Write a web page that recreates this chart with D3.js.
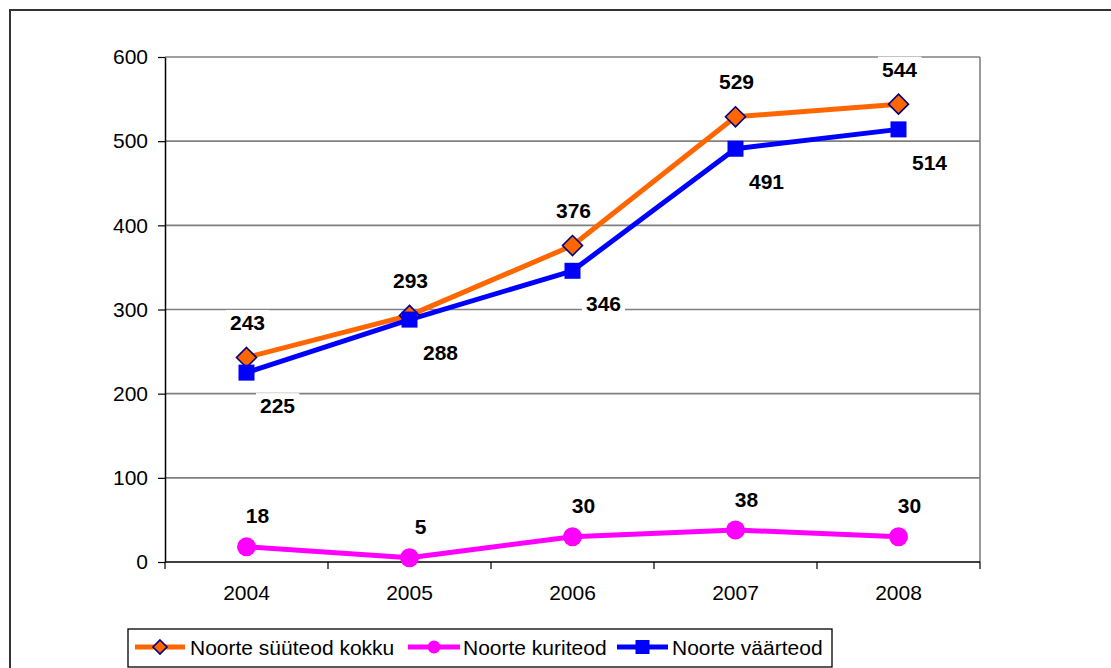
<!DOCTYPE html>
<html><head><meta charset="utf-8">
<script src="https://cdn.jsdelivr.net/npm/d3@7"></script>
<style>body{margin:0;background:#fff}svg{display:block}text{font-family:"Liberation Sans",Arial,sans-serif}</style>
</head><body>
<svg id="c" width="1111" height="668"></svg>
<script>
const years = ["2004","2005","2006","2007","2008"];
const totalArson = [243,293,376,529,544];      // Noorte süüteod kokku
const crimes = [18,5,30,38,30];                 // Noorte kuriteod
const misdemeanors = [225,288,346,491,514];     // Noorte väärteod
const yTicks = [0,100,200,300,400,500,600];
const seriesNames = ["Noorte süüteod kokku","Noorte kuriteod","Noorte väärteod"];

const svg = d3.select("#c");
const L = 165, R = 980, T = 57, B = 562;
const FS = 21;

// outer frame
svg.append("rect").attr("x",10).attr("y",10).attr("width",1120).attr("height",680)
  .attr("fill","none").attr("stroke","#333").attr("stroke-width",2);

const x = d3.scaleBand().domain(years).range([L,R]);
const y = d3.scaleLinear().domain([0,600]).range([B,T]);
const cx = d => x(d) + x.bandwidth()/2;

// gridlines
svg.append("g").selectAll("line").data(yTicks.filter(v=>v>0)).join("line")
  .attr("x1",L).attr("x2",R).attr("y1",d=>y(d)).attr("y2",d=>y(d))
  .attr("stroke","#808080").attr("stroke-width",1.6);
// right border of plot
svg.append("line").attr("x1",R).attr("x2",R).attr("y1",T).attr("y2",B)
  .attr("stroke","#808080").attr("stroke-width",1.6);

// y axis
const yAxis = svg.append("g").attr("transform",`translate(${L},0)`)
  .call(d3.axisLeft(y).tickValues(yTicks).tickSize(7).tickPadding(10).tickSizeOuter(0));
yAxis.select(".domain").attr("stroke","#000").attr("stroke-width",1.5);
yAxis.selectAll(".tick line").attr("stroke","#000").attr("stroke-width",1.2);
yAxis.selectAll("text").attr("font-size",FS).attr("fill","#000")
  .style("font-family","'Liberation Sans',Arial,sans-serif");

// x axis with ticks at category boundaries
const xg = svg.append("g").attr("transform",`translate(0,${B})`);
xg.append("line").attr("x1",L).attr("x2",R).attr("stroke","#000").attr("stroke-width",1.5);
const bounds = years.map(d=>x(d)).concat([R]);
xg.selectAll("line.tk").data(bounds).join("line").attr("class","tk")
  .attr("x1",d=>d).attr("x2",d=>d).attr("y1",0).attr("y2",7)
  .attr("stroke","#000").attr("stroke-width",1.2);
xg.selectAll("text").data(years).join("text")
  .attr("x",d=>cx(d)).attr("y",38).attr("text-anchor","middle")
  .attr("font-size",FS).attr("fill","#000").text(d=>d);

const line = d3.line().x((d,i)=>cx(years[i])).y(d=>y(d));

const series = [
  {name:seriesNames[0], vals:totalArson, color:"#FF6600", marker:"diamond", lab:[1,-35]},
  {name:seriesNames[1], vals:crimes, color:"#FF00FF", marker:"circle", lab:[11,-31]},
  {name:seriesNames[2], vals:misdemeanors, color:"#0000FF", marker:"square", lab:[31,33]}
];

function drawMarker(g, type, color, px, py, s){
  if(type==="diamond"){
    const h=s/2;
    g.append("path").attr("d",`M${px},${py-h}L${px+h},${py}L${px},${py+h}L${px-h},${py}Z`)
      .attr("fill",color).attr("stroke","#000080").attr("stroke-width",1.6);
  } else if(type==="circle"){
    g.append("circle").attr("cx",px).attr("cy",py).attr("r",s/2).attr("fill",color);
  } else {
    g.append("rect").attr("x",px-s/2).attr("y",py-s/2).attr("width",s).attr("height",s).attr("fill",color);
  }
}

[series[1],series[0],series[2]].forEach(s=>{
  svg.append("path").datum(s.vals).attr("d",line).attr("fill","none")
    .attr("stroke",s.color).attr("stroke-width",5).attr("stroke-linejoin","round");
});
[series[1],series[0],series[2]].forEach(s=>{
  const g = svg.append("g");
  const size = s.marker==="diamond"?20:(s.marker==="circle"?19:16);
  s.vals.forEach((v,i)=>drawMarker(g,s.marker,s.color,cx(years[i]),y(v),size));
});

// data labels with white backgrounds
series.forEach(s=>{
  s.vals.forEach((v,i)=>{
    const g = svg.append("g");
    const t = g.append("text").attr("x",cx(years[i])+s.lab[0]).attr("y",y(v)+s.lab[1])
      .attr("text-anchor","middle").attr("dominant-baseline","central")
      .attr("font-size",FS).attr("font-weight","bold").attr("fill","#000").text(v);
    const bb = t.node().getBBox();
    g.insert("rect","text").attr("x",bb.x-4).attr("y",bb.y-1).attr("width",bb.width+8).attr("height",bb.height+2)
      .attr("fill","#fff");
  });
});

// legend
const lg = svg.append("g");
lg.append("rect").attr("x",128).attr("y",629).attr("width",704).attr("height",38)
  .attr("fill","#fff").attr("stroke","#000").attr("stroke-width",1.3);
const legItems = [
  {s:series[0], x1:135, x2:185, tx:190},
  {s:series[1], x1:408, x2:460, tx:463},
  {s:series[2], x1:617, x2:668, tx:672}
];
const ly = 647;
legItems.forEach(it=>{
  lg.append("line").attr("x1",it.x1).attr("x2",it.x2).attr("y1",ly).attr("y2",ly)
    .attr("stroke",it.s.color).attr("stroke-width",5);
  const sz = it.s.marker==="diamond"?14:(it.s.marker==="circle"?13:14);
  drawMarker(lg,it.s.marker,it.s.color,(it.x1+it.x2)/2,ly,sz);
  lg.append("text").attr("x",it.tx).attr("y",ly).attr("dominant-baseline","central")
    .attr("font-size",FS).attr("fill","#000").text(it.s.name);
});
</script>
</body></html>
